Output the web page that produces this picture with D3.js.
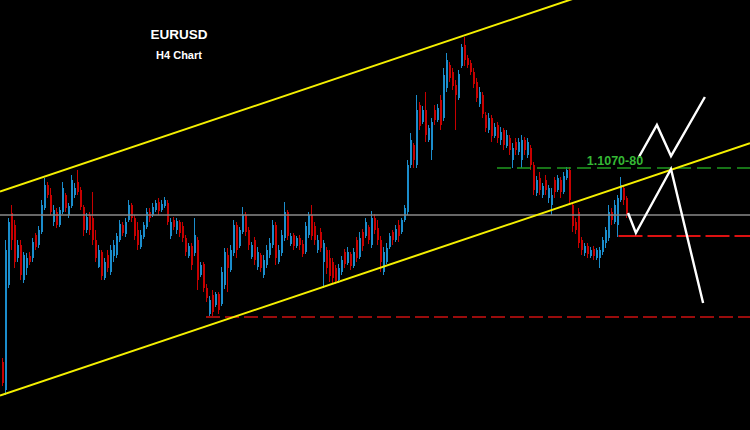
<!DOCTYPE html>
<html><head><meta charset="utf-8">
<script src="https://cdn.jsdelivr.net/npm/d3@7"></script>
<style>html,body{margin:0;padding:0;background:#000;overflow:hidden}svg{display:block}</style>
</head><body>
<svg id="chart" width="750" height="430"></svg>
<script>
// ---- Data (EURUSD H4 candles) ----
const open = [
1.0876,1.0848,1.0953,1.1025,1.1013,1.0980,1.0993,1.0958,1.0970,1.0982,
1.0980,1.1003,1.0993,1.1006,1.1030,1.1053,1.1043,1.1016,1.1026,1.1013,
1.1026,1.1043,1.1023,1.1032,1.1043,1.1056,1.1048,1.1031,1.1008,1.1023,
1.1020,1.0998,1.0971,1.0986,1.0960,1.0983,1.0966,1.0982,1.0983,1.0998,
1.1013,1.1004,1.1018,1.1033,1.1020,1.1008,1.0991,1.1001,1.1011,1.1026,
1.1023,1.1028,1.1036,1.1028,1.1032,1.1035,1.1002,1.1018,1.1008,1.1016,
1.1012,1.1000,1.0982,1.0992,1.0985,1.0998,1.0963,1.0974,1.0950,1.0924,
1.0943,1.0933,1.0944,1.0934,1.0953,1.0983,1.0968,1.0985,1.1013,1.0992,
1.1006,1.1023,1.1008,1.0981,1.0998,1.0971,1.0983,1.0963,1.0973,1.0983,
1.0993,1.1013,1.0976,1.0985,1.1000,1.1026,1.0994,1.1003,1.0992,1.1000,
1.0994,1.0986,1.1003,1.1023,1.1012,1.0988,1.1006,1.0976,1.0988,1.0980,
1.0976,1.0970,1.0958,1.0966,1.0986,1.0975,1.0984,1.0972,1.0998,1.0981,
1.1006,1.1002,1.1011,1.0993,1.1020,1.1010,1.0998,1.0966,1.0976,1.0991,
1.1006,1.0998,1.1013,1.1006,1.1018,1.1026,1.1073,1.1093,1.1073,1.1133,
1.1116,1.1128,1.1098,1.1088,1.1128,1.1118,1.1138,1.1120,1.1150,1.1173,
1.1166,1.1153,1.1140,1.1172,1.1193,1.1180,1.1175,1.1166,1.1156,1.1134,
1.1143,1.1123,1.1108,1.1120,1.1102,1.1113,1.1098,1.1108,1.1092,1.1100,
1.1078,1.1096,1.1086,1.1078,1.1098,1.1083,1.1090,1.1073,1.1045,1.1060,
1.1043,1.1058,1.1040,1.1033,1.1058,1.1048,1.1058,1.1046,1.1060,1.1068,
1.1033,1.1016,1.1026,1.0998,1.0985,1.0992,1.0982,1.0989,1.0980,1.0980,
1.0986,1.0995,1.1000,1.1026,1.1016,1.1013,1.1038,1.1050,1.1040];
const high = [
1.0880,1.0998,1.1020,1.1033,1.1018,1.0998,1.0998,1.0986,1.0985,1.0986,
1.1000,1.1005,1.1012,1.1038,1.1060,1.1056,1.1050,1.1033,1.1030,1.1031,
1.1056,1.1045,1.1035,1.1063,1.1055,1.1068,1.1051,1.1033,1.1025,1.1026,
1.1046,1.1008,1.0993,1.0988,1.0980,1.0988,1.0993,1.0998,1.1005,1.1018,
1.1016,1.1020,1.1038,1.1035,1.1023,1.1016,1.1008,1.1016,1.1030,1.1030,
1.1035,1.1038,1.1040,1.1038,1.1041,1.1038,1.1020,1.1021,1.1020,1.1018,
1.1016,1.1003,1.0995,1.0995,1.1020,1.1001,1.0976,1.0976,1.0954,1.0942,
1.0948,1.0946,1.0946,1.0971,1.0990,1.0990,1.0993,1.1018,1.1016,1.1011,
1.1031,1.1026,1.1011,1.0996,1.1001,1.0991,1.0985,1.0983,1.0993,1.1000,
1.1018,1.1016,1.0993,1.1008,1.1036,1.1028,1.1005,1.1005,1.1002,1.1003,
1.0998,1.1016,1.1026,1.1033,1.1016,1.1003,1.1010,1.0998,1.0991,1.0988,
1.0980,1.0973,1.0974,1.0982,1.0989,1.0991,1.0986,1.0990,1.1001,1.1006,
1.1009,1.1020,1.1013,1.1027,1.1024,1.1018,1.1002,1.0991,1.0995,1.1005,
1.1008,1.1013,1.1018,1.1020,1.1033,1.1078,1.1105,1.1095,1.1143,1.1136,
1.1132,1.1146,1.1113,1.1120,1.1133,1.1134,1.1143,1.1170,1.1185,1.1176,
1.1170,1.1158,1.1168,1.1194,1.1201,1.1183,1.1178,1.1170,1.1160,1.1151,
1.1146,1.1126,1.1125,1.1123,1.1115,1.1116,1.1111,1.1110,1.1108,1.1103,
1.1095,1.1100,1.1100,1.1103,1.1101,1.1100,1.1093,1.1076,1.1062,1.1066,
1.1055,1.1063,1.1053,1.1050,1.1061,1.1063,1.1061,1.1066,1.1071,1.1071,
1.1035,1.1020,1.1030,1.1001,1.0995,1.0995,1.0991,1.0992,1.0990,1.0991,
1.1001,1.1011,1.1033,1.1030,1.1038,1.1043,1.1061,1.1053,1.1042];
const low = [
1.0852,1.0843,1.0950,1.0988,1.0970,1.0976,1.0958,1.0955,1.0963,1.0973,
1.0976,1.0988,1.0990,1.1004,1.1028,1.1040,1.1023,1.1012,1.1010,1.1011,
1.1024,1.1026,1.1020,1.1030,1.1040,1.1043,1.1028,1.1002,1.1005,1.1003,
1.0993,1.0976,1.0970,1.0958,1.0958,1.0966,1.0963,1.0976,1.0980,1.0996,
1.1002,1.1001,1.1016,1.1016,1.0998,1.0988,1.0989,1.0999,1.1009,1.1016,
1.1021,1.1026,1.1023,1.1026,1.1030,1.1013,1.0999,1.1008,1.1004,1.1001,
1.0996,1.0982,1.0980,1.0968,1.0982,1.0948,1.0961,1.0946,1.0936,1.0920,
1.0922,1.0931,1.0924,1.0932,1.0949,1.0946,1.0966,1.0982,1.0980,1.0990,
1.1004,1.1002,1.0988,1.0979,1.0973,1.0968,1.0966,1.0960,1.0970,1.0980,
1.0990,1.0973,1.0974,1.0982,1.0997,1.0998,1.0992,1.0988,1.0990,1.0988,
1.0981,1.0984,1.1000,1.0998,1.0993,1.0985,1.0986,1.0950,1.0964,1.0956,
1.0955,1.0954,1.0955,1.0963,1.0970,1.0973,1.0968,1.0970,1.0976,1.0979,
1.0987,1.1000,1.0994,1.0990,1.1004,1.0993,1.0966,1.0963,1.0974,1.0989,
1.0993,1.0996,1.0996,1.1004,1.1016,1.1023,1.1070,1.1070,1.1070,1.1108,
1.1114,1.1096,1.1096,1.1078,1.1113,1.1116,1.1108,1.1117,1.1146,1.1156,
1.1148,1.1108,1.1138,1.1170,1.1172,1.1170,1.1163,1.1150,1.1136,1.1131,
1.1120,1.1106,1.1105,1.1096,1.1100,1.1095,1.1093,1.1088,1.1090,1.1083,
1.1070,1.1083,1.1083,1.1070,1.1083,1.1080,1.1068,1.1043,1.1042,1.1043,
1.1040,1.1043,1.1035,1.1023,1.1040,1.1046,1.1040,1.1044,1.1058,1.1033,
1.1006,1.1004,1.0990,1.0983,1.0982,1.0980,1.0980,1.0978,1.0978,1.0970,
1.0983,1.0990,1.0997,1.1013,1.1014,1.1001,1.1036,1.1033,1.1020];
const close = [
1.0855,1.0988,1.1016,1.0998,1.0976,1.0993,1.0963,1.0983,1.0980,1.0976,
1.0996,1.0991,1.1008,1.1033,1.1053,1.1043,1.1026,1.1028,1.1013,1.1028,
1.1050,1.1030,1.1032,1.1058,1.1050,1.1046,1.1031,1.1008,1.1021,1.1008,
1.0998,1.0980,1.0988,1.0962,1.0976,1.0970,1.0988,1.0993,1.1002,1.1014,
1.1005,1.1016,1.1033,1.1020,1.1002,1.0993,1.1003,1.1013,1.1026,1.1020,
1.1031,1.1035,1.1027,1.1034,1.1038,1.1016,1.1016,1.1011,1.1017,1.1005,
1.1000,1.0986,1.0992,1.0973,1.1003,1.0958,1.0973,1.0950,1.0940,1.0938,
1.0926,1.0944,1.0928,1.0966,1.0986,1.0970,1.0988,1.1013,1.0988,1.1008,
1.1023,1.1006,1.0993,1.0993,1.0978,1.0986,1.0970,1.0978,1.0988,1.0995,
1.1013,1.0980,1.0988,1.1003,1.1026,1.1002,1.1002,1.0992,1.1000,1.0993,
1.0984,1.1012,1.1023,1.1002,1.0998,1.0998,1.0990,1.0995,1.0970,1.0962,
1.0960,1.0957,1.0970,1.0978,1.0974,1.0986,1.0972,1.0986,1.0980,1.1000,
1.0992,1.1016,1.0998,1.1020,1.1008,1.0998,1.0976,1.0986,1.0990,1.1002,
1.0998,1.1009,1.1002,1.1018,1.1030,1.1073,1.1098,1.1078,1.1128,1.1112,
1.1128,1.1103,1.1110,1.1116,1.1118,1.1130,1.1113,1.1163,1.1178,1.1160,
1.1152,1.1143,1.1164,1.1191,1.1178,1.1173,1.1166,1.1154,1.1140,1.1146,
1.1124,1.1110,1.1120,1.1102,1.1111,1.1100,1.1106,1.1093,1.1103,1.1088,
1.1090,1.1088,1.1096,1.1098,1.1088,1.1096,1.1073,1.1048,1.1058,1.1048,
1.1052,1.1048,1.1050,1.1043,1.1046,1.1060,1.1046,1.1062,1.1068,1.1038,
1.1012,1.1008,1.0995,1.0988,1.0992,1.0984,1.0988,1.0982,1.0988,1.0988,
1.0998,1.1008,1.1026,1.1018,1.1033,1.1040,1.1053,1.1038,1.1024];

// Horizontal levels (price, start bar index)
const levelPivot = 1.1023;                      // grey line, full width
const levelZone = 1.1070, levelZoneStart = 165; // green dashed
const levelSupport = 1.1002, levelSupportStart = 205.5; // red dashed
const levelLow = 1.0921, levelLowStart = 68;    // dark red dashed
// Channel lines: [bar index, price]
const channelUpper = [[0, 1.1047], [208, 1.1257]];
const channelLower = [[0, 1.0843], [208, 1.1053]];
// Projected paths (bar index, price)
const pathA_i = [208.7, 211.3, 223, 233.7];
const pathA_p = [1.1025, 1.1005, 1.1069, 1.0935];
const pathB_i = [212.3, 218.3, 223, 234.3];
const pathB_p = [1.1081, 1.1113, 1.1082, 1.1141];
// Texts
const titleText = "EURUSD";
const subtitleText = "H4 Chart";
const zoneLabel = "1.1070-80";

// ---- Drawing ----
const W = 750, H = 430;
const svg = d3.select("#chart");
svg.append("rect").attr("width", W).attr("height", H).attr("fill", "#000");

const x = d3.scaleLinear().domain([0, open.length - 1]).range([2, 626]);
const y = d3.scaleLinear().domain([1.0808, 1.1238]).range([H, 0]);
const iMin = x.invert(0), iMax = x.invert(W);

const data = open.map((o, i) => ({ i, o, h: high[i], l: low[i], c: close[i] }));
const UP = "#1b8dcc", DOWN = "#c80000";
const col = d => d.c >= d.o ? UP : DOWN;

const cg = svg.append("g").attr("shape-rendering", "crispEdges");
cg.selectAll("line.wick").data(data).join("line").attr("class", "wick")
  .attr("x1", d => Math.round(x(d.i)) + 0.5).attr("x2", d => Math.round(x(d.i)) + 0.5)
  .attr("y1", d => y(d.h)).attr("y2", d => y(d.l))
  .attr("stroke", col).attr("stroke-width", 1);
cg.selectAll("rect.body").data(data).join("rect").attr("class", "body")
  .attr("x", d => Math.round(x(d.i)))
  .attr("width", 2)
  .attr("y", d => y(Math.max(d.o, d.c)))
  .attr("height", d => Math.max(1, Math.abs(y(d.o) - y(d.c))))
  .attr("fill", col);

// grey pivot line
svg.append("line").attr("x1", 0).attr("x2", W)
  .attr("y1", y(levelPivot)).attr("y2", y(levelPivot))
  .attr("stroke", "#8a8a8a").attr("stroke-width", 1.6);

// dashed levels
function hLevel(p, start, color, dash, w) {
  svg.append("line").attr("x1", x(start)).attr("x2", W)
    .attr("y1", y(p)).attr("y2", y(p))
    .attr("stroke", color).attr("stroke-width", w).attr("stroke-dasharray", dash);
}
hLevel(levelLow, levelLowStart, "#9a0c0c", "14,5", 1.8);
hLevel(levelZone, levelZoneStart, "#1f9a1f", "14,6", 1.6);
hLevel(levelSupport, levelSupportStart, "#dd1111", "24,5", 1.8);

// channel lines
function chan(pts) {
  const [[i0, p0], [i1, p1]] = pts;
  const s = (p1 - p0) / (i1 - i0);
  return [[iMin, p0 + s * (iMin - i0)], [iMax, p0 + s * (iMax - i0)]];
}
const lineGen = d3.line().x(d => x(d[0])).y(d => y(d[1]));
[channelUpper, channelLower].forEach(c => {
  svg.append("path").attr("d", lineGen(chan(c)))
    .attr("fill", "none").attr("stroke", "#f5f000").attr("stroke-width", 2);
});

// projection zigzags
[[pathA_i, pathA_p], [pathB_i, pathB_p]].forEach(([is, ps]) => {
  svg.append("path").attr("d", lineGen(is.map((v, k) => [v, ps[k]])))
    .attr("fill", "none").attr("stroke", "#ffffff").attr("stroke-width", 2.4)
    .attr("stroke-linejoin", "miter");
});

// texts
svg.append("text").attr("x", 179).attr("y", 39).attr("text-anchor", "middle")
  .attr("font-family", "Liberation Sans, Arial, sans-serif").attr("font-weight", "bold")
  .attr("font-size", 13.5).attr("fill", "#fff").text(titleText);
svg.append("text").attr("x", 179).attr("y", 59).attr("text-anchor", "middle")
  .attr("font-family", "Liberation Sans, Arial, sans-serif").attr("font-weight", "bold")
  .attr("font-size", 11).attr("fill", "#fff").text(subtitleText);
svg.append("text").attr("x", 615).attr("y", y(levelZone) - 3).attr("text-anchor", "middle")
  .attr("font-family", "Liberation Sans, Arial, sans-serif").attr("font-weight", "bold")
  .attr("font-size", 12.5).attr("fill", "#35b935").text(zoneLabel);
</script>
</body></html>
